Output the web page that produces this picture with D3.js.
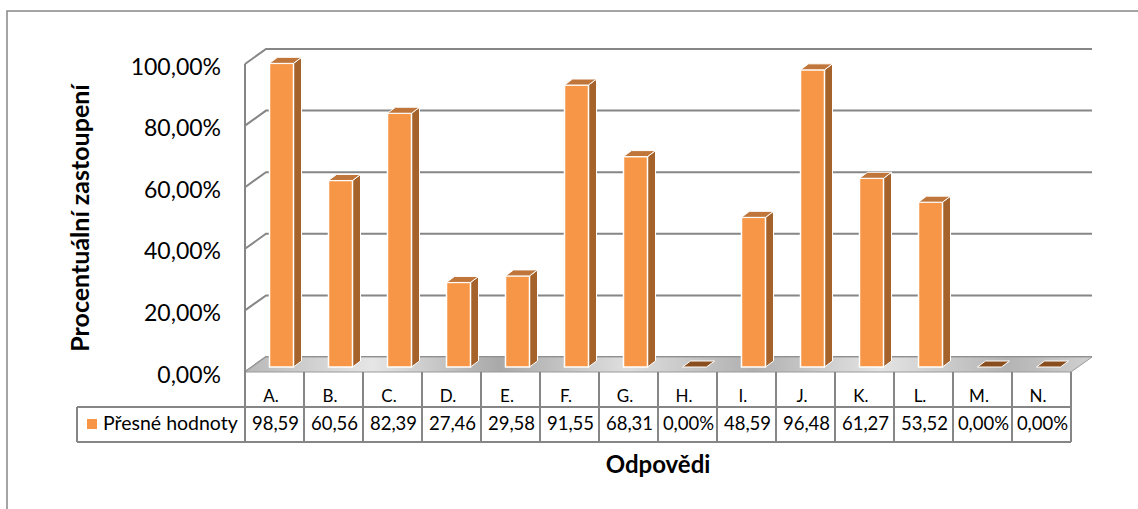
<!DOCTYPE html>
<html><head><meta charset="utf-8">
<script src="https://cdn.jsdelivr.net/npm/d3@7"></script>
<style>body{margin:0;background:#fff}svg{display:block}</style>
</head><body>
<script>
const categories = ["A.","B.","C.","D.","E.","F.","G.","H.","I.","J.","K.","L.","M.","N."];
const values = [98.59,60.56,82.39,27.46,29.58,91.55,68.31,0,48.59,96.48,61.27,53.52,0,0];
const valueLabels = ["98,59","60,56","82,39","27,46","29,58","91,55","68,31","0,00%","48,59","96,48","61,27","53,52","0,00%","0,00%"];
const yTicks = [0,20,40,60,80,100];
const yTickLabels = ["0,00%","20,00%","40,00%","60,00%","80,00%","100,00%"];
const seriesName = "Přesné hodnoty";
const yTitle = "Procentuální zastoupení";
const xTitle = "Odpovědi";

const W=1138,H=509, font="Lato, 'Open Sans', sans-serif";
const svg=d3.select("body").append("svg").attr("width",W).attr("height",H);
const defs=svg.append("defs");
const g1=defs.append("linearGradient").attr("id","floor").attr("x1","0").attr("y1","0").attr("x2","1").attr("y2","0");
[["0","#b8b8b8"],["0.15","#e6e6e6"],["0.3","#a9a9a9"],["0.45","#dedede"],["0.6","#b0b0b0"],["0.75","#e4e4e4"],["0.9","#b4b4b4"],["1","#d0d0d0"]].forEach(s=>g1.append("stop").attr("offset",s[0]).attr("stop-color",s[1]));

const x0=245,x1=1071, dx=21, dy=-15;
const x=d3.scaleBand().domain(categories).range([x0,x1]).paddingInner(0).paddingOuter(0);
const y=d3.scaleLinear().domain([0,100]).range([372,64]);
const grid="#868686";

// outer border
svg.append("rect").attr("x",7).attr("y",11).attr("width",1200).attr("height",600).attr("fill","none").attr("stroke",grid).attr("stroke-width",1.5);

// gridlines (walls)
svg.append("g").selectAll("path").data(yTicks).join("path")
  .attr("d",t=>`M${x0},${y(t)}L${x0+dx},${y(t)+dy}L${x1+dx},${y(t)+dy}`)
  .attr("fill","none").attr("stroke",grid).attr("stroke-width",2);

// floor
svg.append("path").attr("d",`M${x0},${y(0)}L${x1},${y(0)}L${x1+dx},${y(0)+dy}L${x0+dx},${y(0)+dy}Z`)
  .attr("fill","url(#floor)").attr("stroke","#9a9a9a").attr("stroke-width",1);

// left front edge
svg.append("line").attr("x1",x0).attr("x2",x0).attr("y1",y(100)).attr("y2",442).attr("stroke",grid).attr("stroke-width",2);

// bars
const bw=24, bdx=8, bdy=-6, off=7, offy=-5;
const bars=svg.append("g").selectAll("g").data(categories).join("g");
bars.each(function(c,i){
  const g=d3.select(this);
  const left=x(c)+x.bandwidth()/2+off-bw/2;
  const base=y(0)+offy, top=y(values[i])+offy;
  if(values[i]>0){
    g.append("path").attr("d",`M${left+bw},${top}L${left+bw+bdx},${top+bdy}L${left+bw+bdx},${base+bdy}L${left+bw},${base}Z`)
      .attr("fill","#a5622b").attr("stroke","#fff").attr("stroke-width",1);
    g.append("rect").attr("x",left).attr("y",top).attr("width",bw).attr("height",base-top)
      .attr("fill","#f79646").attr("stroke","#fff").attr("stroke-width",1.5);
  }
  g.append("path").attr("d",`M${left},${top}L${left+bdx},${top+bdy}L${left+bw+bdx},${top+bdy}L${left+bw},${top}Z`)
    .attr("fill",values[i]>0?"#c0753a":"#8a4d1e").attr("stroke","#fff").attr("stroke-width",1);
});

// y tick labels
svg.append("g").selectAll("text").data(yTicks).join("text")
  .attr("x",221).attr("y",t=>y(t)+10.5).attr("text-anchor","end")
  .attr("font-family",font).attr("font-size",23).attr("fill","#000").text((t,i)=>yTickLabels[i]);

// table
const tb=svg.append("g");
tb.selectAll("line.v").data(categories).join("line")
  .attr("x1",c=>x(c)+x.bandwidth()).attr("x2",c=>x(c)+x.bandwidth()).attr("y1",372).attr("y2",442)
  .attr("stroke",grid).attr("stroke-width",2);
tb.append("line").attr("x1",77).attr("x2",x1).attr("y1",407).attr("y2",407).attr("stroke",grid).attr("stroke-width",2);
tb.append("line").attr("x1",77).attr("x2",x1).attr("y1",442).attr("y2",442).attr("stroke",grid).attr("stroke-width",2);
tb.append("line").attr("x1",77).attr("x2",77).attr("y1",407).attr("y2",442).attr("stroke",grid).attr("stroke-width",2);
tb.selectAll("text.c").data(categories).join("text")
  .attr("x",c=>x(c)+x.bandwidth()/2-3.5).attr("y",402).attr("text-anchor","middle")
  .attr("font-family",font).attr("font-size",17).text(c=>c);
tb.selectAll("text.v").data(categories).join("text")
  .attr("x",c=>x(c)+x.bandwidth()/2+1).attr("y",430).attr("text-anchor","middle")
  .attr("font-family",font).attr("font-size",18.5).text((c,i)=>valueLabels[i]);
tb.append("rect").attr("x",87).attr("y",419).attr("width",10).attr("height",10).attr("fill","#f79646");
tb.append("text").attr("x",103).attr("y",430).attr("font-family",font).attr("font-size",19.5).text(seriesName);

// titles
svg.append("text").attr("transform","translate(89,218) rotate(-90)").attr("text-anchor","middle")
  .attr("font-family",font).attr("font-weight","bold").attr("font-size",25).text(yTitle);
svg.append("text").attr("x",658).attr("y",473).attr("text-anchor","middle")
  .attr("font-family",font).attr("font-weight","bold").attr("font-size",24).text(xTitle);
</script>
</body></html>
